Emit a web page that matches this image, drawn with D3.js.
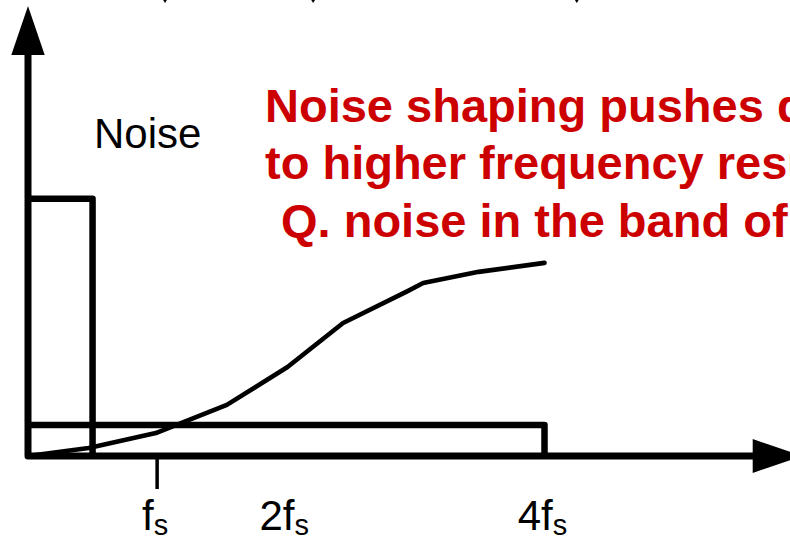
<!DOCTYPE html>
<html>
<head>
<meta charset="utf-8">
<script src="https://cdn.jsdelivr.net/npm/d3@7"></script>
<style>
  html, body { margin: 0; padding: 0; background: #fff; }
  svg { display: block; }
</style>
</head>
<body>
<script>
// Frequency axis in units of fs, noise level in arbitrary units
const tickFreqs = [1, 2, 4];
const tickMultipliers = ["", "2", "4"];
const tickMarks = [1];                  // only fs gets a tick stroke

// Quantisation noise spectra (level vs frequency)
const nyquistBand = [0, 0.5];           // in-band noise of a Nyquist-rate converter
const nyquistLevel = 8.3;
const oversampledBand = [0, 4];         // noise spread over 4fs when oversampling
const oversampledLevel = 1;

// Shaped noise curve
const shapedFreq  = [0, 0.47, 0.99, 1.54, 2.01, 2.44, 2.94, 3.06, 3.49, 4.0];
const shapedLevel = [0, 0.26, 0.74, 1.65, 2.87, 4.29, 5.32, 5.58, 5.94, 6.23];

// small arrow tips peeking in along the top edge
const topTips = [1.061, 2.208, 4.25];

const caption = [
  "Noise shaping pushes quantization noise",
  "to higher frequency resulting in less",
  "Q. noise in the band of interest"
];

const W = 790, H = 536;
const svg = d3.select("body").append("svg")
  .attr("width", W).attr("height", H)
  .style("background", "#fff");

const x = d3.scaleLinear().domain([0, 4]).range([28, 544.5]);
const y = d3.scaleLinear().domain([0, 1]).range([456, 425]);

const line = d3.line().x(d => x(d[0])).y(d => y(d[1]));

// Oversampled flat noise floor
svg.append("path")
  .attr("d", line([[oversampledBand[0], oversampledLevel], [oversampledBand[1], oversampledLevel], [oversampledBand[1], 0]]))
  .attr("fill", "none").attr("stroke", "#000").attr("stroke-width", 6.5)
  .attr("stroke-linejoin", "round");

// Nyquist-rate noise block
svg.append("path")
  .attr("d", line([[nyquistBand[0], nyquistLevel], [nyquistBand[1], nyquistLevel], [nyquistBand[1], 0]]))
  .attr("fill", "none").attr("stroke", "#000").attr("stroke-width", 6.5)
  .attr("stroke-linejoin", "round");

// Shaped noise
svg.append("path")
  .attr("d", line(shapedFreq.map((f, i) => [f, shapedLevel[i]])))
  .attr("fill", "none").attr("stroke", "#000").attr("stroke-width", 4.6)
  .attr("stroke-linejoin", "round").attr("stroke-linecap", "round");

// Axes drawn as one polyline with arrowheads
const x0 = x(0), y0 = y(0);
svg.append("path")
  .attr("d", `M${x0},50 L${x0},${y0} L755,${y0}`)
  .attr("fill", "none").attr("stroke", "#000").attr("stroke-width", 7)
  .attr("stroke-linejoin", "round");
svg.append("path")
  .attr("d", `M${x0},6 L${x0 + 16.7},55 L${x0 - 16.7},55 Z`)
  .attr("fill", "#000");
svg.append("path")
  .attr("d", `M802,${y0} L752.7,${y0 - 17} L752.7,${y0 + 17} Z`)
  .attr("fill", "#000");

// Tick stroke(s)
svg.selectAll("line.tick").data(tickMarks).join("line")
  .attr("class", "tick")
  .attr("x1", d => x(d)).attr("x2", d => x(d))
  .attr("y1", y0 + 3).attr("y2", 489)
  .attr("stroke", "#000").attr("stroke-width", 3.5);

// Tick labels with subscript s
const lbl = svg.selectAll("text.tlabel").data(tickFreqs).join("text")
  .attr("class", "tlabel")
  .attr("x", d => x(d) - 2)
  .attr("y", 530)
  .attr("text-anchor", "middle")
  .attr("font-family", "Liberation Sans, Arial, sans-serif")
  .attr("font-size", 42)
  .attr("fill", "#000");
lbl.append("tspan").text((d, i) => tickMultipliers[i] + "f");
lbl.append("tspan").attr("font-size", 29).attr("dy", 4.5).text("s");

// Arrow tips at the top edge
svg.selectAll("path.tip").data(topTips).join("path")
  .attr("class", "tip")
  .attr("d", d => `M${x(d) - 2.5},-1 L${x(d) + 2.5},-1 L${x(d)},3 Z`)
  .attr("fill", "#000");

// "Noise" label
svg.append("text")
  .attr("x", 94).attr("y", 148)
  .attr("font-family", "Liberation Sans, Arial, sans-serif")
  .attr("font-size", 42)
  .attr("fill", "#000")
  .text("Noise");

// Red caption
svg.append("g").selectAll("text").data(caption).join("text")
  .attr("x", (d, i) => i === 2 ? 281 : 265)
  .attr("y", (d, i) => 121.7 + i * 57.5)
  .attr("font-family", "Liberation Sans, Arial, sans-serif")
  .attr("font-weight", "bold")
  .attr("font-size", 47)
  .attr("fill", "#cc0000")
  .text(d => d);
</script>
</body>
</html>
